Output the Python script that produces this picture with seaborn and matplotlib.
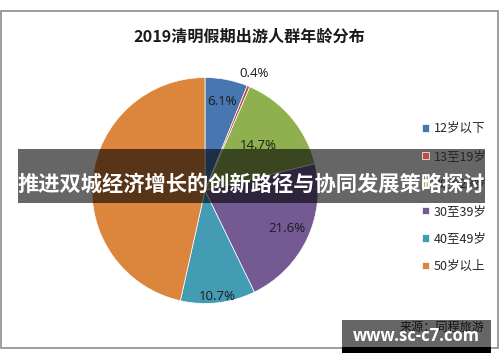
import numpy as np
import matplotlib
matplotlib.use("Agg")
import matplotlib.pyplot as plt
import seaborn as sns
from matplotlib.patches import Rectangle

# ----------------------------------------------------------
# DATA
# ----------------------------------------------------------

title = "2019清明假期出游人群年龄分布"
age_groups = ["12岁以下", "13至19岁", "20至29岁", "30至39岁", "40至49岁", "50岁以上"]
shares = [6.1, 0.4, 14.7, 21.6, 10.7, 46.5]
# the 50岁以上 label is hidden under the banner in the source picture
pct_labels = ["6.1%", "0.4%", "14.7%", "21.6%", "10.7%", ""]
source_text = "来源：同程旅游"
banner_text = "推进双城经济增长的创新路径与协同发展策略探讨"
watermark = "www.sc-c7.com"

colors = ["#4776B0", "#BE4B48", "#8FB04E", "#735A93", "#439CB4", "#DC853D"]
label_radius = [0.80, 1.12, 0.62, 0.80, 0.94, 0.60]

# ----------------------------------------------------------
# STYLE
# ----------------------------------------------------------

sns.set_theme(style="white")
plt.rcParams["font.family"] = ["Noto Sans CJK SC", "DejaVu Sans"]
palette = sns.color_palette(colors)

W, H = 500, 362
fig = plt.figure(figsize=(5, 3.62), dpi=100)


def fx(px):
    return px / W


def fy(py):
    return 1 - py / H


# outer frame
fig.patches.append(Rectangle((fx(1), fy(348)), fx(497), 337 / H, transform=fig.transFigure,
                             fill=False, edgecolor="#8c8c8c", linewidth=1.2))

fig.text(fx(249), fy(37), title, ha="center", va="center",
         fontsize=11.6, fontweight="bold", color="#1a1a1a")

# ----------------------------------------------------------
# PIE
# ----------------------------------------------------------

cx, cy, r = 205, 190.5, 113
ax = fig.add_axes([fx(cx - r), fy(cy + r), 2 * r / W, 2 * r / H])
wedges, _ = ax.pie(shares, colors=palette, startangle=90, counterclock=False,
                   wedgeprops=dict(edgecolor="white", linewidth=0.5))
ax.set_xlim(-1, 1)
ax.set_ylim(-1, 1)
ax.axis("off")

for w, lab, rr in zip(wedges, pct_labels, label_radius):
    if not lab:
        continue
    ang = np.deg2rad((w.theta1 + w.theta2) / 2)
    ax.text(rr * np.cos(ang), rr * np.sin(ang), lab, ha="center", va="center",
            fontsize=9.5, color="#1a1a1a", family=["Open Sans", "DejaVu Sans"])

fig.legend(wedges, age_groups, loc="center left", bbox_to_anchor=(fx(411), fy(197.5)),
           frameon=False, fontsize=9, handlelength=0.55, handleheight=0.55,
           handletextpad=0.35, labelspacing=1.16, labelcolor="#262626")

# ----------------------------------------------------------
# OVERLAYS
# ----------------------------------------------------------

fig.text(fx(484), fy(327), source_text, ha="right", va="center", fontsize=8.7, color="#333333")

fig.patches.append(Rectangle((fx(18), fy(203)), fx(467), 54 / H, transform=fig.transFigure,
                             facecolor="black", alpha=0.6, edgecolor="none", zorder=5))
fig.text(fx(251), fy(184), banner_text, ha="center", va="center", fontsize=15.3,
         fontweight="bold", color="white", zorder=6)

fig.patches.append(Rectangle((fx(342), fy(347)), fx(149), 27 / H, transform=fig.transFigure,
                             facecolor="black", alpha=0.6, edgecolor="none", zorder=5))
fig.patches.append(Rectangle((fx(342), fy(353)), fx(149), 6 / H, transform=fig.transFigure,
                             facecolor="black", edgecolor="none", zorder=5))
fig.text(fx(416), fy(336), watermark, ha="center", va="center", fontsize=12,
         fontweight="bold", color="white", family=["Open Sans", "DejaVu Sans"], zorder=6)

fig.savefig("out.png", dpi=100)
